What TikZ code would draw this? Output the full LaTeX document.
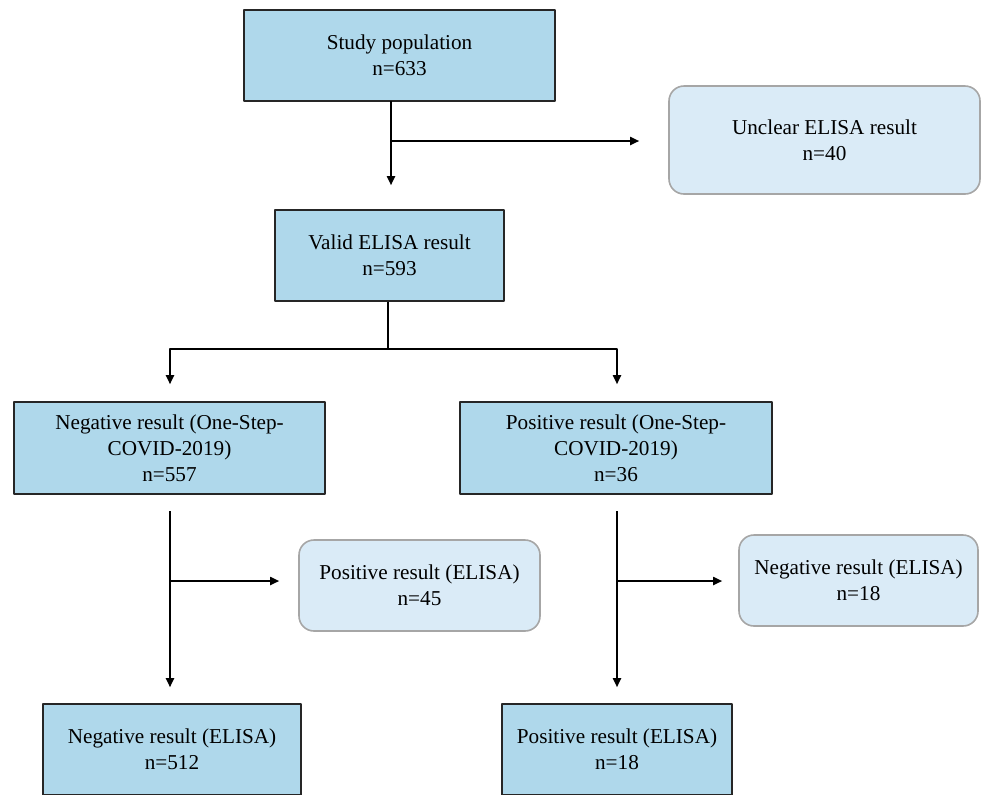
\documentclass[tikz,border=0pt]{standalone}
\usepackage{fontspec}
\setmainfont{Liberation Serif}
\usetikzlibrary{arrows.meta,calc}
\definecolor{boxblue}{HTML}{AFD8EB}
\definecolor{paleblue}{HTML}{DAEBF7}
\definecolor{paleline}{HTML}{A6A6A6}
\begin{document}
\begin{tikzpicture}[x=0.5pt, y=-0.5pt, line join=round, font=\fontsize{10.6}{13}\selectfont,
		mainbox/.style={draw=black!85, line width=0.8pt, fill=boxblue, align=center, inner sep=0pt},
		sidebox/.style={draw=paleline, line width=0.8pt, fill=paleblue, align=center, inner sep=0pt, rounded corners=7.5pt},
		arr/.style={-{Triangle[length=4.5pt,width=4pt]}, line width=0.9pt},
		ln/.style={line width=0.9pt}]
	\useasboundingbox (0,0) rectangle (983,794);
	% boxes
	\node[mainbox, minimum width=155.5pt, minimum height=45.5pt] (study) at (399.5,55.5) {Study population\\n=633};
	\node[sidebox, minimum width=155.5pt, minimum height=54pt] (unclear) at (824.5,140) {Unclear ELISA result\\n=40};
	\node[mainbox, minimum width=114.5pt, minimum height=45.5pt] (valid) at (389.5,255.5) {Valid ELISA result\\n=593};
	\node[mainbox, minimum width=155.5pt, minimum height=46pt] (negos) at (169.5,448) {Negative result (One-Step-\\COVID-2019)\\n=557};
	\node[mainbox, minimum width=156pt, minimum height=46pt] (posos) at (616,448) {Positive result (One-Step-\\COVID-2019)\\n=36};
	\node[sidebox, minimum width=120.5pt, minimum height=45.5pt] (poselisa) at (419.5,585.5) {Positive result (ELISA)\\n=45};
	\node[sidebox, minimum width=119.5pt, minimum height=45.5pt] (negelisa) at (858.5,580.5) {Negative result (ELISA)\\n=18};
	\node[mainbox, minimum width=129pt, minimum height=45.5pt] (negfinal) at (172,749.5) {Negative result (ELISA)\\n=512};
	\node[mainbox, minimum width=115pt, minimum height=45.5pt] (posfinal) at (617,749.5) {Positive result (ELISA)\\n=18};
	% branch points
	\coordinate (top) at (391,101);
	\coordinate (topfork) at (391,141);
	\coordinate (mid) at (388,349);
	\coordinate (lstart) at (170,511);
	\coordinate (lfork) at (170,581);
	\coordinate (rstart) at (617,511);
	\coordinate (rfork) at (617,581);
	% connectors
	\draw[arr, shorten >=12pt] (top) -- (top |- valid.north);
	\draw[arr, shorten >=14.5pt] (topfork) -- (topfork -| unclear.west);
	\draw[ln] (valid.south -| mid) -- (mid);
	\draw[arr, shorten >=8.5pt] (mid) -| (lstart |- negos.north);
	\draw[arr, shorten >=8.5pt] (mid) -| (rstart |- posos.north);
	\draw[arr, shorten >=8pt] (lstart) -- (lstart |- negfinal.north);
	\draw[arr, shorten >=9.5pt] (lfork) -- (lfork -| poselisa.west);
	\draw[arr, shorten >=8pt] (rstart) -- (rstart |- posfinal.north);
	\draw[arr, shorten >=8pt] (rfork) -- (rfork -| negelisa.west);
\end{tikzpicture}
\end{document}
